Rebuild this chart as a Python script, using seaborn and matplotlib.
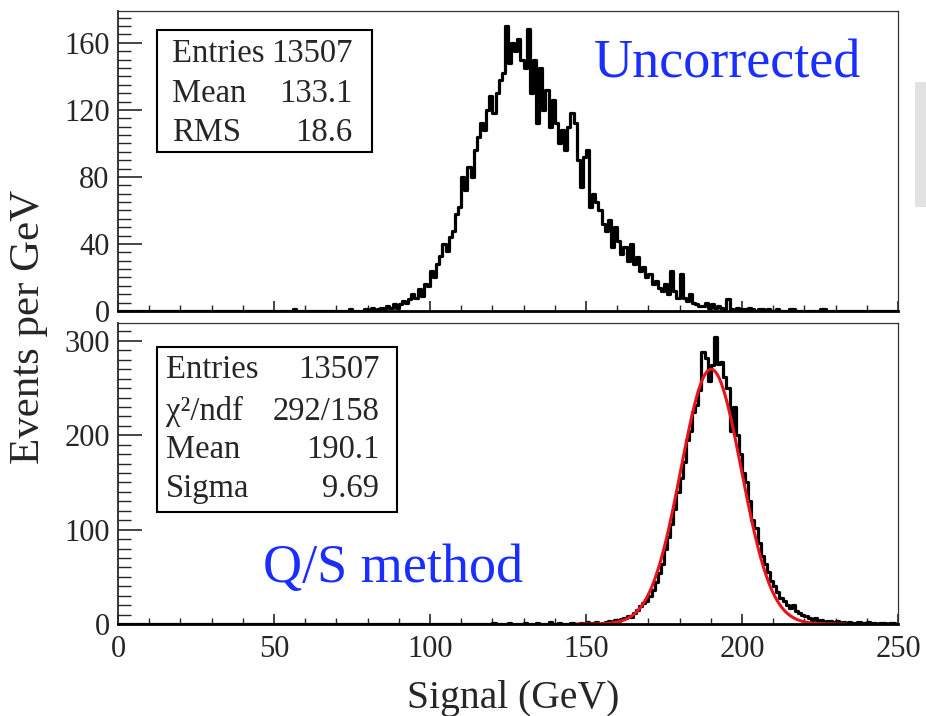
import numpy as np
import pandas as pd
import matplotlib
matplotlib.use("Agg")
import matplotlib.pyplot as plt
from matplotlib.patches import Rectangle
from matplotlib.ticker import MultipleLocator
import seaborn as sns

# ---------------- data (1 GeV bins) ----------------
top_start = 84
top_counts = [2, 1, 3, 2, 4, 2, 4, 6, 5, 7,            # 84-93
              10, 8, 13, 9, 16, 15, 24, 20, 28, 33,    # 94-103
              40, 36, 44, 48, 58, 62, 80, 72, 86, 80,  # 104-113
              96, 104, 112, 108, 120, 128, 118, 130, 138, 142,  # 114-123
              170, 148, 160, 155, 162, 150, 145, 168, 130, 150,  # 124-133
              112, 145, 120, 132, 110, 126, 112, 100, 108, 96,   # 134-143
              110, 118, 112, 90, 74, 92, 96, 62, 70, 65,         # 144-153
              60, 52, 48, 54, 38, 50, 42, 34, 38, 30,            # 154-163
              40, 28, 32, 24, 26, 20, 22, 16, 18, 14,            # 164-173
              12, 16, 10, 24, 12, 8, 22, 8, 6, 10,               # 174-183
              5, 4, 3, 3, 5, 2, 4, 2, 3, 2,                      # 184-193
              1, 7, 1, 0, 2, 1, 1, 1, 2, 1,                      # 194-203
              0, 1, 1, 0, 1, 0, 0, 1, 0, 0,                      # 204-213
              0, 1, 1, 0, 0, 0, 0, 0, 0, 0,                      # 214-223
              0, 1, 1, 0]                                        # 224-227
top_sparse_bins = [56, 74, 79, 81, 83]
top_sparse_counts = [1, 1, 1, 2, 1]

bot_start = 150
bot_counts = [2, 0, 1, 2, 0, 1, 2, 3, 2, 4,              # 150-159
              3, 5, 6, 8, 7, 12, 15, 19, 22, 24,         # 160-169
              30, 36, 44, 54, 64, 80, 92, 106, 122, 140,  # 170-179
              155, 172, 195, 205, 225, 232, 248, 288, 282, 258,  # 180-189
              275, 304, 276, 278, 262, 250, 205, 230, 200, 180,  # 190-199
              160, 150, 130, 110, 102, 86, 72, 64, 55, 46,       # 200-209
              40, 34, 28, 24, 20, 17, 20, 14, 12, 10,            # 210-219
              8, 6, 4, 6, 3, 4, 2, 3, 3, 2,                      # 220-229
              3, 1, 2, 1, 2, 1, 1, 2, 1, 1,                      # 230-239
              2, 1, 1, 0, 1, 1, 0, 1, 1]                         # 240-248
bot_sparse_bins = [120, 125, 130, 134, 138, 141, 145, 148]
bot_sparse_counts = [1, 1, 1, 1, 2, 1, 1, 1]

fit_const = 270.0
fit_mean = 190.1
fit_sigma = 9.69
fit_range = (147.0, 233.0)

stats_top = [("Entries", "13507"), ("Mean", "133.1"), ("RMS", "18.6")]
stats_bot = [("Entries", "13507"), ("χ²/ndf", "292/158"), ("Mean", "190.1"), ("Sigma", "9.69")]


def full_hist(start, counts, sp_bins, sp_counts):
    c = np.zeros(250)
    c[start:start + len(counts)] = counts
    for b, v in zip(sp_bins, sp_counts):
        c[b] = v
    return c


centers = np.arange(0, 250, 1.0) + 0.5
top_full = full_hist(top_start, top_counts, top_sparse_bins, top_sparse_counts)
bot_full = full_hist(bot_start, bot_counts, bot_sparse_bins, bot_sparse_counts)
df_top = pd.DataFrame({"x": centers, "w": top_full})
df_bot = pd.DataFrame({"x": centers, "w": bot_full})

xf = np.linspace(fit_range[0], fit_range[1], 400)
df_fit = pd.DataFrame({"x": xf, "y": fit_const * np.exp(-0.5 * ((xf - fit_mean) / fit_sigma) ** 2)})

# ---------------- style ----------------
sns.set_style("ticks")
plt.rcParams["font.family"] = ["Liberation Serif", "DejaVu Serif"]
plt.rcParams["mathtext.fontset"] = "stix"

W, H = 926, 716
fig = plt.figure(figsize=(W / 100, H / 100), dpi=100)
fig.patch.set_facecolor("white")

L, R = 118, 898
ax1 = fig.add_axes([L / W, 1 - 311 / H, (R - L) / W, 300 / H])
ax2 = fig.add_axes([L / W, 1 - 624 / H, (R - L) / W, 301 / H])

blue = "#1a2fff"
FS = 22
SFS = 23.5

sns.histplot(data=df_top, x="x", weights="w", binwidth=1.0, binrange=(0, 250),
             element="step", fill=False, color="black", linewidth=2.3, ax=ax1)
sns.histplot(data=df_bot, x="x", weights="w", binwidth=1.0, binrange=(0, 250),
             element="step", fill=False, color="black", linewidth=2.3, ax=ax2)
sns.lineplot(data=df_fit, x="x", y="y", color="#e8141c", linewidth=2.2, ax=ax2)

for ax, ymax, ymaj, ymin in [(ax1, 179, 40, 5), (ax2, 319, 100, 10)]:
    ax.set_xlim(0, 250)
    ax.set_ylim(0, ymax)
    ax.set_xlabel("")
    ax.set_ylabel("")
    ax.xaxis.set_major_locator(MultipleLocator(50))
    ax.xaxis.set_minor_locator(MultipleLocator(10))
    ax.yaxis.set_major_locator(MultipleLocator(ymaj))
    ax.yaxis.set_minor_locator(MultipleLocator(ymin))
    ax.tick_params(axis="y", which="major", direction="in", length=17, width=1.2,
                   labelsize=FS, pad=6, right=False)
    ax.tick_params(axis="y", which="minor", direction="in", length=9, width=1.0, right=False)
    ax.tick_params(axis="x", which="major", direction="in", length=7, width=1.2,
                   labelsize=FS, pad=8, top=False)
    ax.tick_params(axis="x", which="minor", direction="in", length=4, width=1.0, top=False)
    for s in ["top", "right"]:
        ax.spines[s].set_linewidth(0.9)
        ax.spines[s].set_color("#333333")
    ax.spines["left"].set_linewidth(1.3)
    ax.spines["bottom"].set_linewidth(2.0)
    ax.spines["bottom"].set_color("black")

ax1.tick_params(axis="x", labelbottom=False)

# stat box top
ax1.add_patch(Rectangle((0.05, 0.53), 0.276, 0.407, transform=ax1.transAxes,
                        fill=False, edgecolor="black", linewidth=1.5, zorder=5))
for (k, v), yb in zip(stats_top, [0.83, 0.697, 0.567]):
    ax1.text(0.069, yb, k, transform=ax1.transAxes, fontsize=SFS, va="baseline", ha="left")
    ax1.text(0.301, yb, v, transform=ax1.transAxes, fontsize=SFS, va="baseline", ha="right")
ax1.text(0.782, 0.777, "Uncorrected", transform=ax1.transAxes, fontsize=39,
         color=blue, ha="center", va="baseline")

# stat box bottom
ax2.add_patch(Rectangle((0.05, 0.372), 0.308, 0.548, transform=ax2.transAxes,
                        fill=False, edgecolor="black", linewidth=1.5, zorder=5))
for (k, v), yb in zip(stats_bot, [0.817, 0.678, 0.551, 0.422]):
    ax2.text(0.0615, yb, k, transform=ax2.transAxes, fontsize=SFS, va="baseline", ha="left")
    ax2.text(0.335, yb, v, transform=ax2.transAxes, fontsize=SFS, va="baseline", ha="right")
ax2.text(0.186, 0.1395, "Q/S method", transform=ax2.transAxes, fontsize=39,
         color=blue, ha="left", va="baseline")

fig.text(29 / W, 1 - 327 / H, "Events per GeV", rotation=90, fontsize=31,
         ha="center", va="center")
fig.text(513 / W, 1 - 708 / H, "Signal (GeV)", fontsize=28.5, ha="center", va="baseline")

# grey strip at right edge
fig.patches.append(Rectangle((915 / W, 1 - 207 / H), 11 / W, 125 / H,
                             transform=fig.transFigure, facecolor="#e2e2e2",
                             edgecolor="none", zorder=0))

fig.savefig("out.png", dpi=100)
